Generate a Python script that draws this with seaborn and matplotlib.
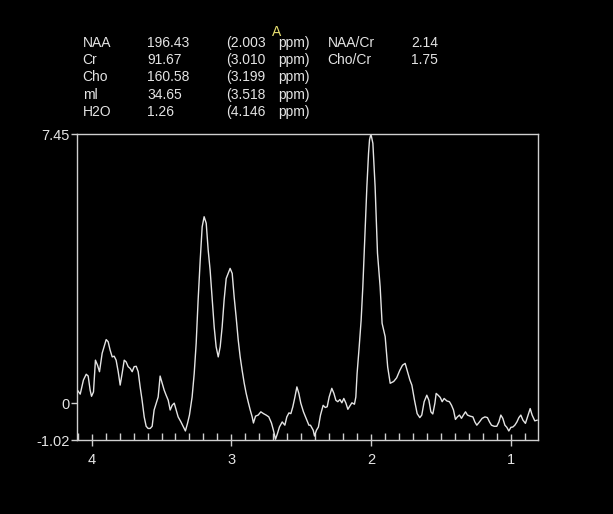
# plot.py
# -------
# MR spectroscopy trace (ppm axis reversed) on a black scanner-style canvas,
# with the metabolite readout table printed above the plot box.

import matplotlib
matplotlib.use("Agg")
import matplotlib.pyplot as plt
from matplotlib.ticker import MultipleLocator
import pandas as pd
import seaborn as sns

# ---------------------------------------------------------------------------
# Data
# ---------------------------------------------------------------------------

ppm = [
    4.102, 4.082, 4.059, 4.039, 4.025, 4.011, 4.001, 3.987, 3.973, 3.958,
    3.944, 3.925, 3.911, 3.896, 3.882, 3.868, 3.853, 3.839, 3.825, 3.810,
    3.796, 3.782, 3.767, 3.753, 3.739, 3.724, 3.710, 3.696, 3.681, 3.667,
    3.653, 3.639, 3.624, 3.610, 3.596, 3.581, 3.567, 3.553, 3.538, 3.524,
    3.510, 3.495, 3.481, 3.467, 3.452, 3.438, 3.424, 3.409, 3.395, 3.381,
    3.361, 3.343, 3.329, 3.314, 3.300, 3.281, 3.266, 3.252, 3.238, 3.223,
    3.209, 3.195, 3.180, 3.166, 3.152, 3.137, 3.123, 3.109, 3.094, 3.080,
    3.066, 3.052, 3.037, 3.023, 3.009, 2.994, 2.980, 2.966, 2.951, 2.937,
    2.923, 2.908, 2.894, 2.880, 2.865, 2.851, 2.842, 2.827, 2.808, 2.789,
    2.770, 2.751, 2.732, 2.713, 2.699, 2.684, 2.670, 2.656, 2.636, 2.617,
    2.603, 2.588, 2.574, 2.560, 2.545, 2.531, 2.517, 2.503, 2.484, 2.465,
    2.445, 2.434, 2.414, 2.405, 2.391, 2.377, 2.362, 2.343, 2.328, 2.314,
    2.300, 2.281, 2.266, 2.252, 2.238, 2.223, 2.209, 2.195, 2.180, 2.166,
    2.152, 2.137, 2.119, 2.109, 2.100, 2.085, 2.071, 2.059, 2.030, 2.018,
    2.011, 2.001, 1.987, 1.971, 1.954, 1.935, 1.921, 1.899, 1.881, 1.863,
    1.838, 1.817, 1.794, 1.775, 1.756, 1.742, 1.722, 1.708, 1.689, 1.670,
    1.651, 1.637, 1.620, 1.601, 1.586, 1.572, 1.558, 1.543, 1.534, 1.520,
    1.505, 1.491, 1.477, 1.457, 1.439, 1.424, 1.410, 1.396, 1.382, 1.367,
    1.353, 1.339, 1.324, 1.310, 1.291, 1.271, 1.257, 1.243, 1.224, 1.205,
    1.185, 1.167, 1.152, 1.138, 1.119, 1.100, 1.085, 1.071, 1.057, 1.042,
    1.028, 1.014, 0.999, 0.985, 0.971, 0.956, 0.942, 0.928, 0.913, 0.895,
    0.880, 0.861, 0.847, 0.828, 0.810,
]

intensity = [
    0.36, 0.25, 0.64, 0.80, 0.75, 0.36, 0.19, 0.31, 1.19, 1.05,
    0.87, 1.38, 1.56, 1.76, 1.70, 1.47, 1.28, 1.30, 1.19, 0.87,
    0.50, 0.82, 1.19, 1.14, 1.01, 0.96, 0.87, 1.01, 1.02, 0.87,
    0.45, 0.08, -0.38, -0.64, -0.70, -0.70, -0.64, -0.19, 0.00, 0.17,
    0.75, 0.55, 0.36, 0.22, 0.08, -0.19, -0.06, 0.00, -0.19, -0.38,
    -0.52, -0.66, -0.77, -0.56, -0.33, 0.17, 0.82, 1.65, 2.85, 3.96,
    4.88, 5.16, 4.98, 4.24, 3.68, 2.85, 2.11, 1.56, 1.28, 1.56,
    2.11, 2.85, 3.45, 3.59, 3.73, 3.59, 2.94, 2.39, 1.75, 1.28,
    0.91, 0.55, 0.27, 0.04, -0.19, -0.38, -0.55, -0.36, -0.33, -0.24,
    -0.29, -0.33, -0.38, -0.55, -0.75, -1.00, -0.84, -0.66, -0.52, -0.61,
    -0.38, -0.27, -0.29, -0.10, 0.17, 0.45, 0.27, 0.00, -0.24, -0.42,
    -0.61, -0.61, -0.75, -0.91, -0.75, -0.66, -0.33, -0.06, -0.12, -0.10,
    0.17, 0.41, 0.27, 0.08, 0.04, 0.10, 0.01, 0.13, 0.00, -0.17,
    -0.08, 0.01, -0.03, 0.17, 0.82, 1.56, 2.30, 3.22, 5.99, 6.92,
    7.29, 7.45, 7.19, 5.99, 4.15, 3.22, 2.21, 1.84, 1.00, 0.55,
    0.60, 0.70, 0.91, 1.05, 1.10, 0.91, 0.64, 0.50, 0.08, -0.29,
    -0.40, -0.33, 0.04, 0.22, 0.08, -0.24, -0.30, 0.00, 0.27, 0.22,
    0.16, 0.04, 0.13, 0.06, 0.04, -0.06, -0.19, -0.45, -0.38, -0.33,
    -0.42, -0.33, -0.24, -0.33, -0.36, -0.38, -0.52, -0.61, -0.52, -0.42,
    -0.38, -0.40, -0.52, -0.61, -0.64, -0.64, -0.52, -0.33, -0.42, -0.61,
    -0.67, -0.77, -0.67, -0.66, -0.61, -0.52, -0.40, -0.33, -0.47, -0.56,
    -0.38, -0.15, -0.33, -0.49, -0.47,
]

# Readout table shown above the spectrum
metabolites = ["NAA", "Cr", "Cho", "ml", "H2O"]
areas = ["196.43", "91.67", "160.58", "34.65", "1.26"]
positions = ["(2.003", "(3.010", "(3.199", "(3.518", "(4.146"]
ratio_names = ["NAA/Cr", "Cho/Cr"]
ratio_values = ["2.14", "1.75"]

y_tick_values = [-1.02, 0, 7.45]
y_tick_labels = ["-1.02", "0", "7.45"]
x_tick_values = [4, 3, 2, 1]

# ---------------------------------------------------------------------------
# Styling
# ---------------------------------------------------------------------------

FG = "#e4e4e4"
AXIS = "#cfcfcf"

sns.set_style("dark", {"axes.facecolor": "black", "figure.facecolor": "black"})
plt.rcParams["font.family"] = ["Liberation Sans", "DejaVu Sans"]

W, H = 613, 514
fig = plt.figure(figsize=(W / 100, H / 100), dpi=100)
fig.patch.set_facecolor("black")

# plot box in pixels: left 77, right 538, top 134, bottom 440
ax = fig.add_axes([77 / W, 1 - 440 / H, (538 - 77) / W, (440 - 134) / H])
ax.set_facecolor("black")

df = pd.DataFrame({"ppm": ppm, "intensity": intensity})
sns.lineplot(data=df, x="ppm", y="intensity", sort=False, estimator=None,
             color=FG, linewidth=1.0, ax=ax)

ax.set_xlim(4.105, 0.805)
ax.set_ylim(-1.02, 7.45)
ax.set_xlabel("")
ax.set_ylabel("")
ax.grid(False)

for side in ["left", "right", "top", "bottom"]:
    ax.spines[side].set_visible(True)
    ax.spines[side].set_color(AXIS)
    ax.spines[side].set_linewidth(1.0)

ax.set_yticks(y_tick_values)
ax.set_yticklabels(y_tick_labels)
ax.set_xticks(x_tick_values)
ax.set_xticklabels([str(v) for v in x_tick_values])
ax.xaxis.set_minor_locator(MultipleLocator(0.1))

# seaborn's "dark" style switches tick marks off, so turn them back on
ax.tick_params(axis="x", which="both", bottom=True, top=False)
ax.tick_params(axis="y", which="major", left=True, right=False)
ax.tick_params(axis="x", which="major", direction="inout", length=8, width=1,
               color=AXIS, labelcolor=FG, labelsize=10.5, pad=5)
ax.tick_params(axis="x", which="minor", direction="in", length=5, width=1,
               color=AXIS)
ax.tick_params(axis="y", which="major", direction="out", length=4, width=1,
               color=AXIS, labelcolor=FG, labelsize=10.5, pad=1)

# ---------------------------------------------------------------------------
# Header table
# ---------------------------------------------------------------------------

def put(x, y, s, color=FG):
    fig.text(x / W, 1 - y / H, s, color=color, fontsize=10,
             ha="left", va="center")

row_y = [42.7, 60.0, 77.3, 95.0, 112.3]
for i, y in enumerate(row_y):
    put(82.7, y, metabolites[i])
    put(147.3, y, areas[i])
    put(225.7, y, positions[i])
    put(278.3, y, "ppm)")

for i, y in enumerate(row_y[:2]):
    put(327.7, y, ratio_names[i])
    put(411.0, y, ratio_values[i])

put(272.0, 32.5, "A", color="#e8e070")

fig.savefig("out.png", dpi=100, facecolor="black")
